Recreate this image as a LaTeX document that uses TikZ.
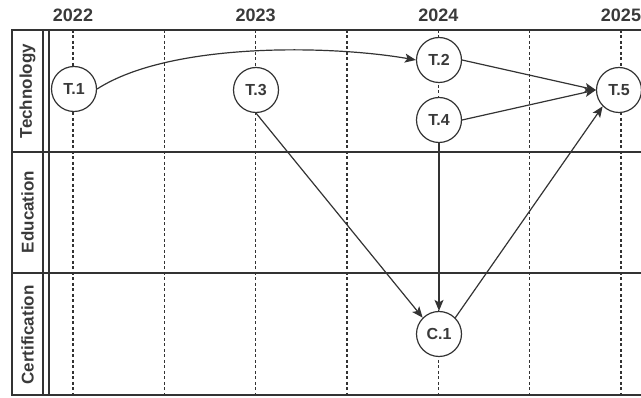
\documentclass[tikz,border=0pt]{standalone}
\usepackage{fontspec}
\setmainfont{Liberation Sans}
\usetikzlibrary{arrows.meta}
\definecolor{ink}{HTML}{333333}
\definecolor{txt}{HTML}{3A3A3A}
\begin{document}
\begin{tikzpicture}[x=1pt,y=-1pt,
  frame/.style={draw=ink,line width=1.6pt},
  yearline/.style={draw=ink,line width=1.1pt,dash pattern=on 3pt off 2.5pt},
  event/.style={circle,draw=ink,line width=1.2pt,fill=white,minimum size=45pt,inner sep=0pt,
    font=\fontsize{16}{18}\selectfont\bfseries,text=txt},
  yearlbl/.style={font=\fontsize{18}{20}\selectfont\bfseries,text=txt},
  lanelbl/.style={rotate=90,font=\fontsize{17}{19}\selectfont\bfseries,text=txt},
  link/.style={draw=ink,line width=1.2pt,-{Stealth[length=11pt,width=9pt,inset=2.5pt]}}]
\useasboundingbox (0,0) rectangle (641,398);

% year columns with dashed guides
\foreach \x/\yr in {73/2022,255.7/2023,438.3/2024,621/2025}{
  \node[yearlbl] (y\yr) at (\x,15) {\yr};
  \draw[yearline] (\x,30) -- (\x,395);
}
\foreach \x in {164.3,347,529.7}{
  \draw[yearline] (\x,30) -- (\x,395);
}

% swim-lane frame
\draw[frame] (660,30) -- (12,30) -- (12,395) -- (660,395);
\draw[frame] (12,152) -- (660,152);
\draw[frame] (12,273) -- (660,273);
\draw[draw=ink,line width=1.2pt] (43,30) -- (43,395);
\draw[draw=ink,line width=1.2pt] (49,30) -- (49,395);

% lane titles
\node[lanelbl] (lt) at (27.5,91) {Technology};
\node[lanelbl] (le) at (27.5,212) {Education};
\node[lanelbl] (lc) at (27.5,335) {Certification};

% events
\node[event] (T1) at (74,89) {T.1};
\node[event] (T3) at (256,90) {T.3};
\node[event] (T2) at (439,60) {T.2};
\node[event] (T4) at (439,120) {T.4};
\node[event] (T5) at (619,90) {T.5};
\node[event] (C1) at (439,334) {C.1};

% dependencies
\draw[link] (T1.east) .. controls (170,42) and (330,45) .. (T2.west);
\draw[link] (T2.east) -- (T5.west);
\draw[link] (T4.east) -- (T5.west);
\draw[link] (T3.south) -- (C1.north west);
\draw[link] (T4.south) -- (C1.north);
\draw[link] (C1.north east) -- (T5.south west);
\end{tikzpicture}
\end{document}
